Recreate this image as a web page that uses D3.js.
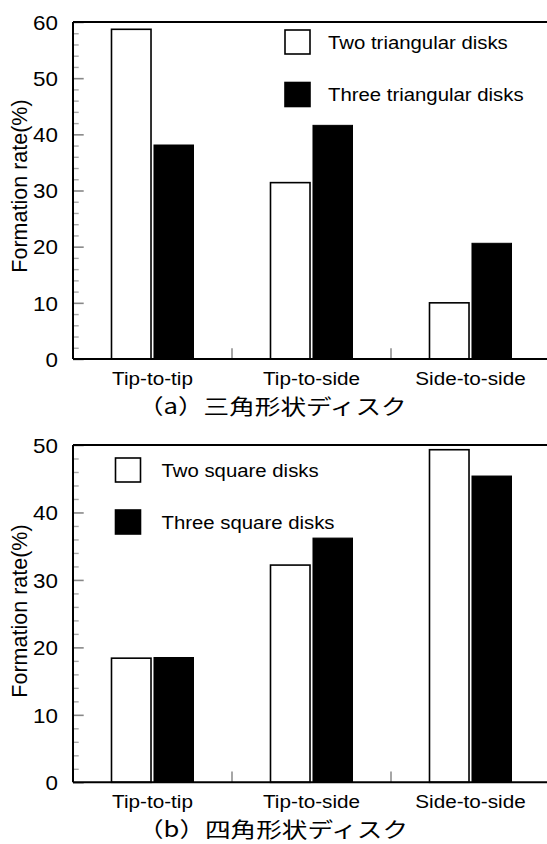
<!DOCTYPE html>
<html>
<head>
<meta charset="utf-8">
<script src="https://cdn.jsdelivr.net/npm/d3@7"></script>
<style>
  html, body { margin: 0; padding: 0; background: #fff; }
  svg { display: block; }
  text { font-family: "Liberation Sans", Arial, Helvetica, sans-serif; fill: #000; }
  .cjk { font-family: "Noto Sans CJK JP", "Noto Sans CJK SC", sans-serif; }
</style>
</head>
<body>
<svg id="chart" width="547" height="844"></svg>
<script>
// Contact-type categories shared by both panels
const categories = ["Tip-to-tip", "Tip-to-side", "Side-to-side"];

// Panel (a): triangular disks, formation rate in %
const triSeries = ["Two triangular disks", "Three triangular disks"];
const triTwo = [58.7, 31.4, 10.0];
const triThree = [38.1, 41.6, 20.6];
const triTicks = [0, 10, 20, 30, 40, 50, 60];

// Panel (b): square disks, formation rate in %
const sqSeries = ["Two square disks", "Three square disks"];
const sqTwo = [18.4, 32.2, 49.3];
const sqThree = [18.5, 36.2, 45.4];
const sqTicks = [0, 10, 20, 30, 40, 50];

const captions = ["（a）三角形状ディスク", "（b）四角形状ディスク"];
const yTitle = "Formation rate(%)";

const svg = d3.select("#chart");
const SX = 1.12; // horizontal glyph stretch used for the Latin labels

function panel(cfg) {
  const { top, bottom, left, right, ticks, series, two, three, caption, legend, titleY } = cfg;
  const g = svg.append("g");
  const yMax = ticks[ticks.length - 1];

  const x = d3.scaleBand().domain(categories).range([left, right]).padding(0);
  const xs = d3.scaleBand().domain(series).range([0, x.bandwidth()])
    .paddingInner(0.07).paddingOuter(0.906);
  const y = d3.scaleLinear().domain([0, yMax]).range([bottom, top]);

  const rows = categories.map((c, i) => ({ c, vals: [two[i], three[i]] }));

  // bars
  const grp = g.selectAll("g.cat").data(rows).join("g")
    .attr("class", "cat")
    .attr("transform", d => `translate(${x(d.c)},0)`);
  grp.selectAll("rect").data(d => d.vals.map((v, k) => ({ s: series[k], v, k })))
    .join("rect")
    .attr("x", d => xs(d.s))
    .attr("width", xs.bandwidth())
    .attr("y", d => y(d.v))
    .attr("height", d => y(0) - y(d.v))
    .attr("fill", d => d.k === 0 ? "#fff" : "#000")
    .attr("stroke", "#000")
    .attr("stroke-width", d => d.k === 0 ? 1.6 : 1);

  // minor y ticks every 2 units
  const minor = d3.range(0, yMax + 0.001, 2).filter(v => v % 10 !== 0);
  g.append("g").attr("transform", `translate(${left},0)`)
    .call(d3.axisLeft(y).tickValues(minor).tickSize(-5.7).tickFormat(""))
    .call(a => a.select(".domain").remove())
    .call(a => a.selectAll("line").attr("stroke", "#aaa").attr("stroke-width", 1.4));

  // major y ticks + labels
  g.append("g").attr("transform", `translate(${left},0)`)
    .call(d3.axisLeft(y).tickValues(ticks).tickSize(-10.7).tickPadding(0).tickFormat(d3.format("d")))
    .call(a => a.select(".domain").remove())
    .call(a => a.selectAll("line").attr("stroke", "#888").attr("stroke-width", 1.6))
    .call(a => a.selectAll("text")
      .attr("x", 0).attr("dy", "0.36em")
      .attr("transform", `translate(-15,0) scale(${SX},1)`)
      .style("font-size", "20px").attr("text-anchor", "end")
      .attr("font-family", null));

  // category boundary ticks on the x axis
  const bounds = categories.slice(1).map(c => x(c));
  g.selectAll("line.sep").data(bounds).join("line")
    .attr("class", "sep")
    .attr("x1", d => d).attr("x2", d => d)
    .attr("y1", y(0)).attr("y2", y(0) - 10.7)
    .attr("stroke", "#888").attr("stroke-width", 1.5);

  // frame: left axis, bottom axis, top border
  g.append("line").attr("x1", left).attr("x2", left).attr("y1", top).attr("y2", bottom)
    .attr("stroke", "#000").attr("stroke-width", 2);
  g.append("line").attr("x1", left).attr("x2", right).attr("y1", bottom).attr("y2", bottom)
    .attr("stroke", "#000").attr("stroke-width", 2);
  g.append("line").attr("x1", left).attr("x2", right).attr("y1", top).attr("y2", top)
    .attr("stroke", "#000").attr("stroke-width", 2);

  // category labels
  g.selectAll("text.cat").data(categories).join("text")
    .attr("class", "cat")
    .attr("transform", d => `translate(${x(d) + x.bandwidth() / 2},${bottom + 26}) scale(${SX},1)`)
    .attr("text-anchor", "middle")
    .style("font-size", "18.5px")
    .text(d => d);

  // y-axis title
  g.append("text")
    .attr("transform", `translate(27,${titleY}) rotate(-90)`)
    .attr("text-anchor", "middle")
    .style("font-size", "21.5px")
    .text(yTitle);

  // caption under the panel
  g.append("text").attr("class", "cjk")
    .attr("transform", `translate(138,${bottom + 54.5}) scale(1.22,1)`)
    .style("font-size", "21px")
    .text(caption);

  // legend
  const lg = g.selectAll("g.leg").data(series).join("g")
    .attr("class", "leg")
    .attr("transform", (d, i) => `translate(${legend.x},${legend.y + i * legend.dy})`);
  lg.append("rect")
    .attr("x", 0).attr("y", 0).attr("width", 25).attr("height", 24)
    .attr("fill", (d, i) => i === 0 ? "#fff" : "#000")
    .attr("stroke", "#000").attr("stroke-width", 1.6);
  lg.append("text")
    .attr("transform", `translate(${legend.gap},12) scale(1.1,1)`)
    .attr("dy", "0.36em")
    .style("font-size", "18.5px")
    .text(d => d);
}

panel({
  top: 22, bottom: 359, left: 73, right: 550,
  ticks: triTicks, series: triSeries, two: triTwo, three: triThree,
  caption: captions[0], titleY: 186,
  legend: { x: 285, y: 30, dy: 52.5, gap: 43 }
});

panel({
  top: 445, bottom: 782.3, left: 73, right: 550,
  ticks: sqTicks, series: sqSeries, two: sqTwo, three: sqThree,
  caption: captions[1], titleY: 611,
  legend: { x: 115.5, y: 458, dy: 52, gap: 46 }
});
</script>
</body>
</html>
